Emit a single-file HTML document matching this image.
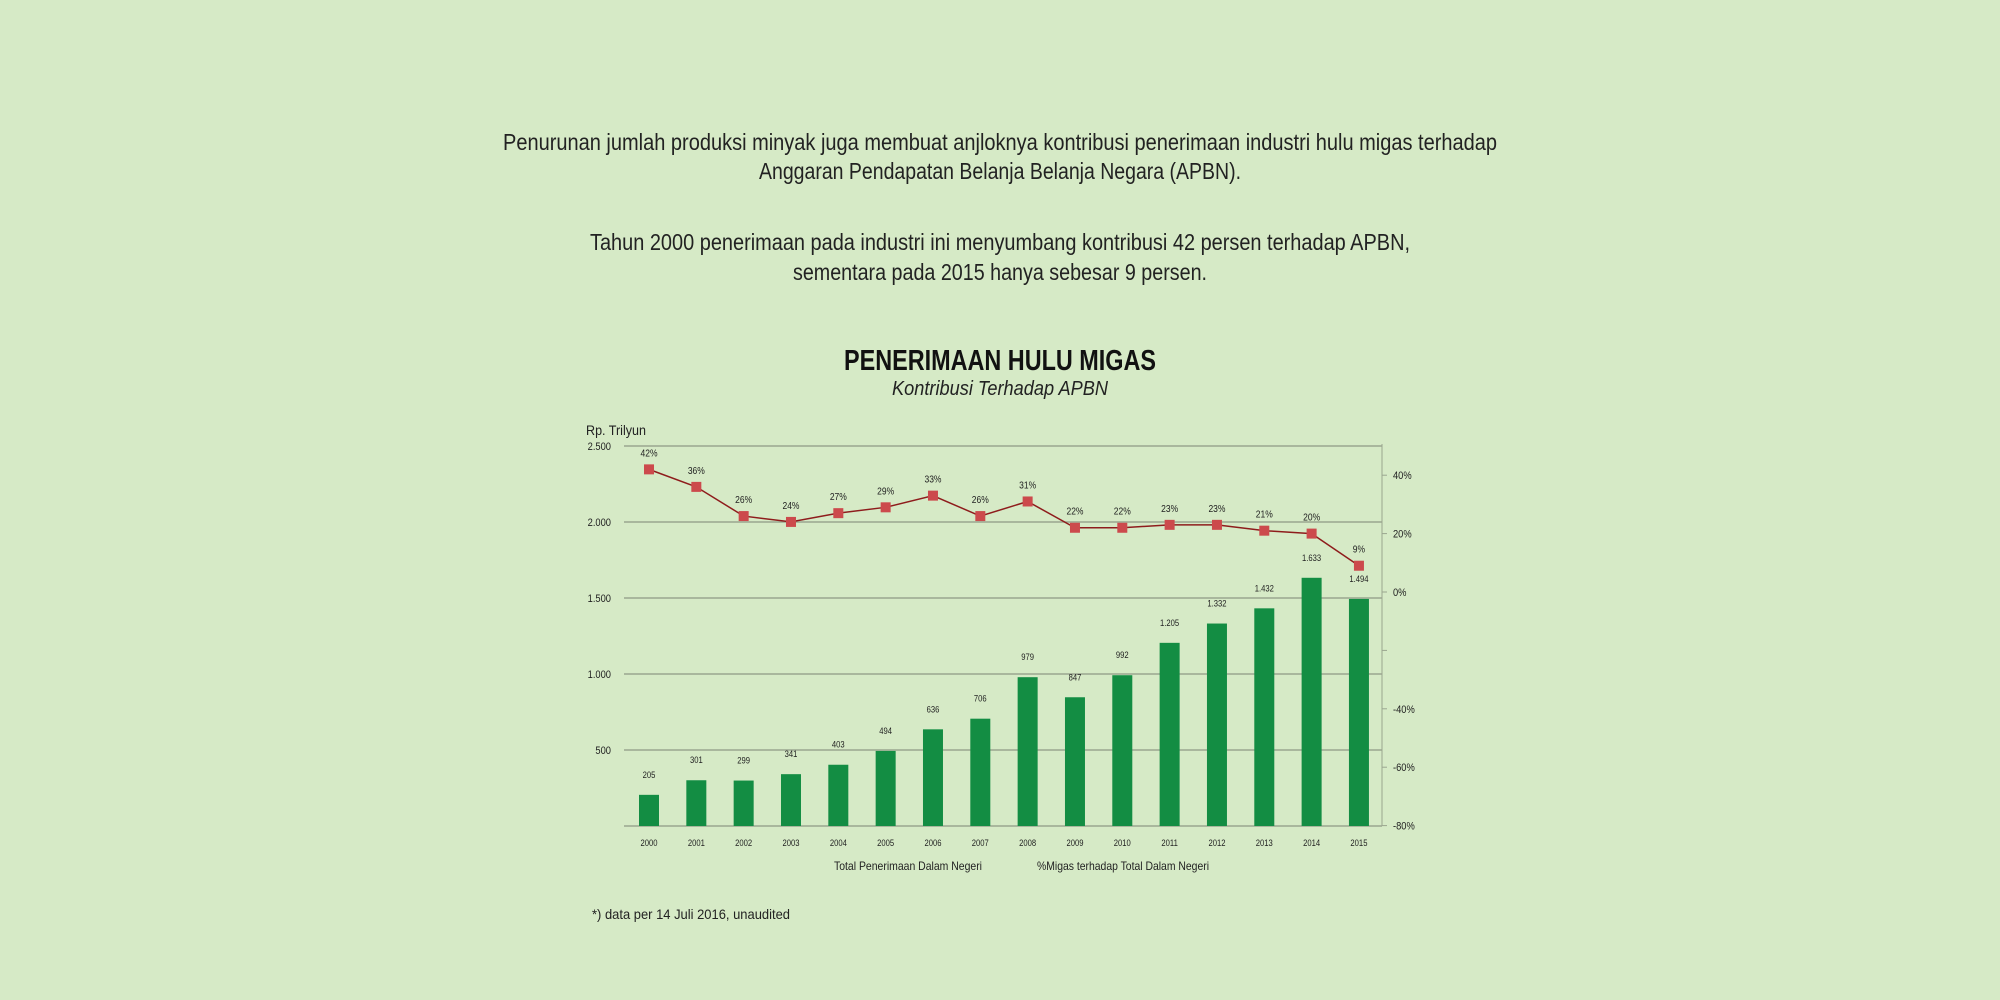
<!DOCTYPE html>
<html><head><meta charset="utf-8"><style>
html,body{margin:0;padding:0;background:#d6eac6;}
svg{display:block;font-family:"Liberation Sans Narrow","Liberation Sans",sans-serif;}
</style></head><body>
<svg id="chart" width="2000" height="1000" viewBox="0 0 2000 1000">
<rect width="2000" height="1000" fill="#d6eac6"/>
<g fill="#222" font-size="23" text-anchor="middle">
<text x="1000" y="150" textLength="994" lengthAdjust="spacingAndGlyphs">Penurunan jumlah produksi minyak juga membuat anjloknya kontribusi penerimaan industri hulu migas terhadap</text>
<text x="1000" y="179" textLength="482" lengthAdjust="spacingAndGlyphs">Anggaran Pendapatan Belanja Belanja Negara (APBN).</text>
<text x="1000" y="250" textLength="820" lengthAdjust="spacingAndGlyphs">Tahun 2000 penerimaan pada industri ini menyumbang kontribusi 42 persen terhadap APBN,</text>
<text x="1000" y="280" textLength="414" lengthAdjust="spacingAndGlyphs">sementara pada 2015 hanya sebesar 9 persen.</text>
</g>
<text x="1000" y="370" font-size="29" font-weight="bold" fill="#111" text-anchor="middle" textLength="312" lengthAdjust="spacingAndGlyphs">PENERIMAAN HULU MIGAS</text>
<text x="1000" y="395" font-size="20" font-style="italic" fill="#222" text-anchor="middle" textLength="216" lengthAdjust="spacingAndGlyphs">Kontribusi Terhadap APBN</text>
<text x="586" y="435" font-size="14" fill="#222" textLength="60" lengthAdjust="spacingAndGlyphs">Rp. Trilyun</text>
<g id="grid"></g><g id="bars"></g><g id="line"></g><g id="axes"></g>
<g font-size="12" fill="#222" text-anchor="middle">
<text x="908" y="870" textLength="148" lengthAdjust="spacingAndGlyphs">Total Penerimaan Dalam Negeri</text>
<text x="1123" y="870" textLength="172" lengthAdjust="spacingAndGlyphs">%Migas terhadap Total Dalam Negeri</text>
</g>
<text x="592" y="919" font-size="14" fill="#222" textLength="198" lengthAdjust="spacingAndGlyphs">*) data per 14 Juli 2016, unaudited</text>
</svg>
<script>
const years=["2000","2001","2002","2003","2004","2005","2006","2007","2008","2009","2010","2011","2012","2013","2014","2015"];
const totals=[205,301,299,341,403,494,636,706,979,847,992,1205,1332,1432,1633,1494];
const totalLabels=["205","301","299","341","403","494","636","706","979","847","992","1.205","1.332","1.432","1.633","1.494"];
const pcts=[42,36,26,24,27,29,33,26,31,22,22,23,23,21,20,9];
const leftTicks=[500,1000,1500,2000,2500];
const leftTickLabels=["500","1.000","1.500","2.000","2.500"];
const rightTicks=[40,20,0,-20,-40,-60,-80];
const rightTickLabels=["40%","20%","0%","","-40%","-60%","-80%"];
const NS="http://www.w3.org/2000/svg";
const X0=649,STEP=47.33,L=624,R=1382;
const xs=i=>X0+i*STEP;
const yL=v=>826-v*76/500;
const yR=p=>592-p*2.92;
function mk(parent,tag,attrs,text){const e=document.createElementNS(NS,tag);for(const k in attrs)e.setAttribute(k,attrs[k]);if(text!==undefined)e.textContent=text;document.getElementById(parent).appendChild(e);return e;}
function narrow(e,x){e.setAttribute('transform','translate('+x+',0) scale(0.85,1) translate('+(-x)+',0)');}
leftTicks.forEach((v,i)=>{
 const g=mk('grid','line',{x1:L,x2:R,y1:yL(v),y2:yL(v),stroke:'#9aa68f','stroke-width':1.5});
 
 
 const t=mk('axes','text',{x:611,y:yL(v)+4,'font-size':11,fill:'#222','text-anchor':'end'},leftTickLabels[i]);
 narrow(t,611);
 
 
});
const base=mk('grid','line',{x1:L,x2:R,y1:826,y2:826,stroke:'#9aa68f','stroke-width':1.5});


const ra=mk('axes','line',{x1:R,x2:R,y1:444,y2:826,stroke:'#9aa68f','stroke-width':1});


rightTicks.forEach((p,i)=>{
 const tk=mk('axes','line',{x1:R,x2:R+5,y1:yR(p),y2:yR(p),stroke:'#9aa68f'});
 
 
 const t=mk('axes','text',{x:1393,y:yR(p)+4,'font-size':11,fill:'#222'},rightTickLabels[i]);
 narrow(t,1393);
 
 
});
years.forEach((y,i)=>{
 const b=mk('bars','rect',{x:xs(i)-10,y:yL(totals[i]),width:20,height:826-yL(totals[i]),fill:'#138d43'});
 
 
 const v=mk('bars','text',{x:xs(i),y:yL(totals[i])-17,'font-size':9,fill:'#222','text-anchor':'middle'},totalLabels[i]);
 narrow(v,xs(i));
 
 
 const t=mk('axes','text',{x:xs(i),y:846,'font-size':9,fill:'#222','text-anchor':'middle'},y);
 narrow(t,xs(i));
 
 
});
const pl=mk('line','polyline',{points:pcts.map((p,i)=>xs(i)+','+yR(p)).join(' '),fill:'none',stroke:'#8e1c1c','stroke-width':1.5});


pcts.forEach((p,i)=>{
 const m=mk('line','rect',{x:xs(i)-5,y:yR(p)-5,width:10,height:10,fill:'#cc4a4c'});
 
 
 const t=mk('line','text',{x:xs(i),y:yR(p)-13,'font-size':10,fill:'#222','text-anchor':'middle'},p+'%');
 narrow(t,xs(i));
 
 
});
</script>
</body></html>
